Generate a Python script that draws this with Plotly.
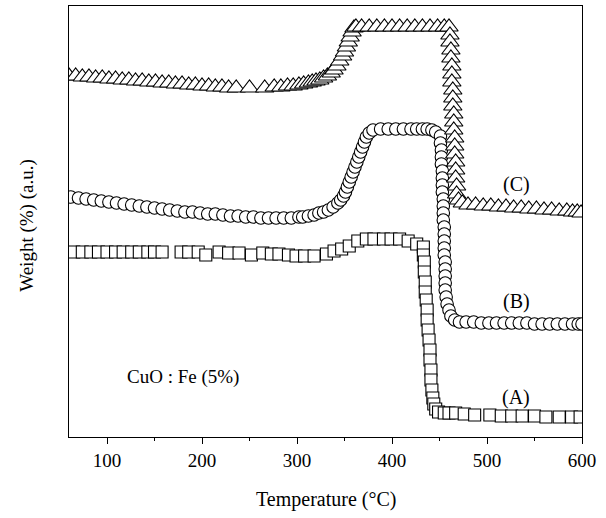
import plotly.graph_objects as go

# ---- Series (A): squares ----
temp_a = [65, 74, 83, 91, 100, 109, 117, 126, 134, 143, 150, 158,
          178, 186, 196, 204, 218, 228, 239, 252, 264, 273, 281, 291, 299,
          308, 318, 331, 339, 347, 355, 364, 373, 381, 391, 399, 408, 417, 426, 433,
          433, 434, 434, 435, 435, 436, 437, 437, 438, 439, 440, 440, 441, 441, 442, 443, 444, 446, 449,
          455, 460, 467, 476, 487, 503, 515, 526, 537, 550, 562, 576, 589, 598]
weight_a = [185, 185, 185, 185, 185, 185, 185, 185, 185, 185, 185, 185,
            185, 185, 185, 182, 185, 184, 184, 182, 184, 183, 183, 182, 181,
            181, 181, 183, 186, 188, 191, 196, 198, 198, 198, 198, 198, 196, 193, 190,
            182, 175, 165, 155, 145, 137, 127, 117, 107, 97, 87, 77, 67, 57, 47, 39, 33, 28, 25,
            24, 24, 24, 23, 22, 22, 21, 21, 21, 21, 20, 20, 20, 20]

# ---- Series (B): circles ----
temp_b = [62, 70, 78, 86, 94, 102, 110, 118, 126, 134, 142, 150, 158, 166, 174, 182,
          190, 198, 206, 214, 222, 230, 238, 246, 254, 262, 270, 278, 286, 294, 302,
          306, 312, 318, 323, 328, 333, 338, 343, 346, 349, 351, 353, 355, 357, 359, 361,
          363, 365, 367, 369, 371, 373, 376, 380,
          388, 396, 404, 412, 420, 426, 432, 437, 442, 446,
          451, 451, 452, 452, 452, 453, 453, 453, 453, 454, 454, 454, 454, 455, 455, 455,
          455, 455, 456, 456, 456, 456, 456, 457, 458, 460, 462, 466, 471,
          478, 486, 494, 502, 510, 518, 526, 534, 542, 550, 558, 566, 574, 582, 590, 596, 600]
weight_b = [240, 239, 238, 237, 236, 235, 234, 233, 232, 231, 230, 229, 228, 227, 226, 225,
            225, 224, 223, 223, 222, 221, 221, 220, 220, 219, 219, 219, 219, 219, 220,
            220, 221, 222, 224, 225, 227, 230, 234, 237, 241, 245, 250, 255, 260, 265, 270,
            275, 280, 285, 290, 295, 300, 304, 307,
            308, 308, 308, 308, 308, 308, 308, 308, 307, 305,
            301, 294, 287, 280, 273, 266, 259, 252, 245, 238, 231, 224, 217, 210, 203, 196,
            189, 182, 175, 168, 161, 154, 147, 140, 133, 127, 121, 117, 115,
            115, 115, 114, 114, 114, 114, 114, 114, 114, 113, 113, 113, 113, 113, 113, 113, 113]

# ---- Series (C): triangles ----
temp_c = [60, 67, 74, 81, 88, 95, 102, 109, 116, 123, 130, 137, 144, 151, 158, 165,
          172, 179, 186, 193, 200, 207, 214, 221, 228, 236, 250, 266, 276, 283, 290, 296,
          302, 307, 312, 316, 320, 324, 328, 332, 336, 339, 342, 345, 348, 350, 352, 354,
          356, 358, 360, 362,
          368, 376, 384, 392, 400, 408, 416, 424, 432, 440, 448, 455, 460,
          461, 461, 462, 462, 463, 463, 463, 464, 464, 464, 465, 465, 465, 466, 466, 466,
          467, 467, 467, 468, 468, 470, 474,
          480, 488, 496, 504, 512, 520, 528, 536, 544, 552, 560, 568, 576, 584, 590, 595, 599]
weight_c = [361, 361, 360, 360, 359, 359, 358, 358, 357, 357, 356, 356, 355, 355, 354, 354,
            353, 353, 352, 352, 351, 351, 350, 350, 349, 349, 349, 349, 350, 350, 351, 351,
            352, 353, 354, 355, 356, 357, 359, 361, 364, 367, 371, 376, 381, 385, 390, 395,
            400, 405, 409, 410,
            410, 410, 410, 410, 410, 410, 410, 410, 410, 410, 410, 410, 410,
            402, 395, 387, 379, 371, 363, 355, 347, 339, 331, 323, 315, 307, 299, 291, 283,
            275, 267, 259, 251, 243, 237, 234,
            232, 232, 231, 231, 230, 230, 229, 229, 228, 228, 227, 227, 226, 226, 225, 225, 224]

x_ticks = [100, 200, 300, 400, 500, 600]
series_labels = ["(A)", "(B)", "(C)"]
sample_label = "CuO : Fe (5%)"

FONT = "Liberation Serif, Times New Roman, Times, serif"

fig = go.Figure()
marker_line = dict(color="black", width=1.1)
fig.add_trace(go.Scatter(x=temp_a, y=weight_a, mode="markers",
                         marker=dict(symbol="square", size=12, color="white", line=marker_line)))
fig.add_trace(go.Scatter(x=temp_b, y=weight_b, mode="markers",
                         marker=dict(symbol="circle", size=12.5, color="white", line=marker_line)))
fig.add_trace(go.Scatter(x=temp_c, y=weight_c, mode="markers",
                         marker=dict(symbol="triangle-up", size=16, color="white", line=marker_line)))

label_pos = [(531, 40), (531, 136), (531, 253)]
for lab, (lx, ly) in zip(series_labels, label_pos):
    fig.add_annotation(x=lx, y=ly, xref="x", yref="y", text=lab, showarrow=False,
                       font=dict(family=FONT, size=20, color="black"))
fig.add_annotation(x=180, y=60, xref="x", yref="y", text=sample_label, showarrow=False,
                   font=dict(family=FONT, size=19, color="black"))

fig.add_annotation(x=0.5, y=-0.145, xref="paper", yref="paper", text="Temperature (°C)",
                   showarrow=False, yanchor="middle",
                   font=dict(family=FONT, size=20, color="black"))
fig.add_annotation(x=-0.082, y=0.49, xref="paper", yref="paper", text="Weight (%) (a.u.)",
                   showarrow=False, textangle=-90, xanchor="center", yanchor="middle",
                   font=dict(family=FONT, size=19, color="black"))

fig.update_layout(
    width=606, height=518,
    margin=dict(l=69, r=24, t=6, b=81),
    paper_bgcolor="white", plot_bgcolor="white",
    showlegend=False,
    font=dict(family=FONT, size=19, color="black"),
)
fig.update_xaxes(range=[60, 600], tickvals=x_ticks, ticks="outside", ticklen=6, tickwidth=1.2,
                 tickcolor="black", showline=True, linecolor="black", linewidth=1.3,
                 mirror=True, showgrid=False, zeroline=False,
                 minor=dict(tickvals=[150, 250, 350, 450, 550], ticks="outside", ticklen=3,
                            tickcolor="black", tickwidth=1.2),
                 tickfont=dict(family=FONT, size=19, color="black"))
fig.update_yaxes(range=[0, 431], showticklabels=False, ticks="", showline=True,
                 linecolor="black", linewidth=1.3, mirror=True, showgrid=False, zeroline=False)

fig.write_html("out.html")
